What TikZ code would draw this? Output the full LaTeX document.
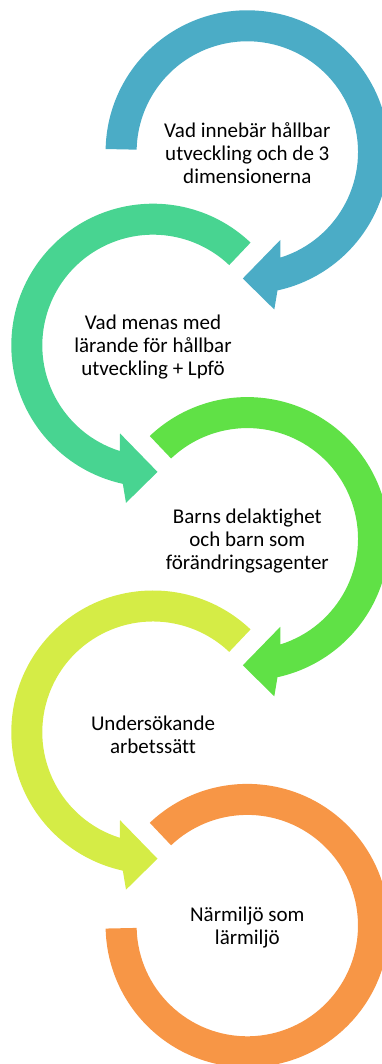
\documentclass[tikz,border=0pt]{standalone}
\usepackage{fontspec}
\setmainfont{Carlito}[Ligatures=NoCommon]
\definecolor{cBlue}{HTML}{4BACC6}
\definecolor{cMint}{HTML}{48D491}
\definecolor{cGreen}{HTML}{60E146}
\definecolor{cLime}{HTML}{D5EC46}
\definecolor{cOrange}{HTML}{F79646}
\begin{document}
\begin{tikzpicture}[x=1pt,y=1pt,
  lbl/.style={align=center,font=\fontsize{21}{23.3}\selectfont,text=black,inner sep=0pt}]
\useasboundingbox (0,0) rectangle (382,1064);
\def\Ro{141.7}
\def\Ri{110.7}
% ring 1 (blue, right, head at bottom pointing left)
\begin{scope}[shift={(247.3,912)}]
\fill[cBlue] (178.8:\Ro) arc[start angle=178.8, end angle=-77.7, radius=\Ro]
  -- (27,-157.5) -- (-4.5,-126.5) -- (33,-88) -- (-72.6:\Ri)
  arc[start angle=-72.6, end angle=178.8, radius=\Ri] -- cycle;
\end{scope}
% ring 2 (mint, left)
\begin{scope}[shift={(153,718.6)}]
\fill[cMint] (46.5:\Ro) arc[start angle=46.5, end angle=257.7, radius=\Ro]
  -- (-27,-157.5) -- (4.5,-126.5) -- (-33,-88) -- (252.6:\Ri)
  arc[start angle=252.6, end angle=46.5, radius=\Ri] -- cycle;
\end{scope}
% ring 3 (green, right)
\begin{scope}[shift={(247.3,525.2)}]
\fill[cGreen] (133.5:\Ro) arc[start angle=133.5, end angle=-77.7, radius=\Ro]
  -- (27,-157.5) -- (-4.5,-126.5) -- (33,-88) -- (-72.6:\Ri)
  arc[start angle=-72.6, end angle=133.5, radius=\Ri] -- cycle;
\end{scope}
% ring 4 (lime, left)
\begin{scope}[shift={(153,331.8)}]
\fill[cLime] (46.5:\Ro) arc[start angle=46.5, end angle=257.7, radius=\Ro]
  -- (-27,-157.5) -- (4.5,-126.5) -- (-33,-88) -- (252.6:\Ri)
  arc[start angle=252.6, end angle=46.5, radius=\Ri] -- cycle;
\end{scope}
% ring 5 (orange, no head)
\begin{scope}[shift={(247.3,138.4)}]
\fill[cOrange] (133.5:\Ro) arc[start angle=133.5, end angle=-178.8, radius=\Ro]
  -- (-178.8:\Ri) arc[start angle=-178.8, end angle=133.5, radius=\Ri] -- cycle;
\end{scope}
\node[lbl] (t1) at (247.3,911) {Vad innebär hållbar\\utveckling och de 3\\dimensionerna};
\node[lbl] (t2) at (153,717) {Vad menas med\\lärande för hållbar\\utveckling + Lpfö};
\node[lbl] (t3) at (247.3,523) {Barns delaktighet\\och barn som\\förändringsagenter};
\node[lbl] (t4) at (153,329.5) {Undersökande\\arbetssätt};
\node[lbl] (t5) at (247.3,136.5) {Närmiljö som\\lärmiljö};
\end{tikzpicture}
\end{document}
